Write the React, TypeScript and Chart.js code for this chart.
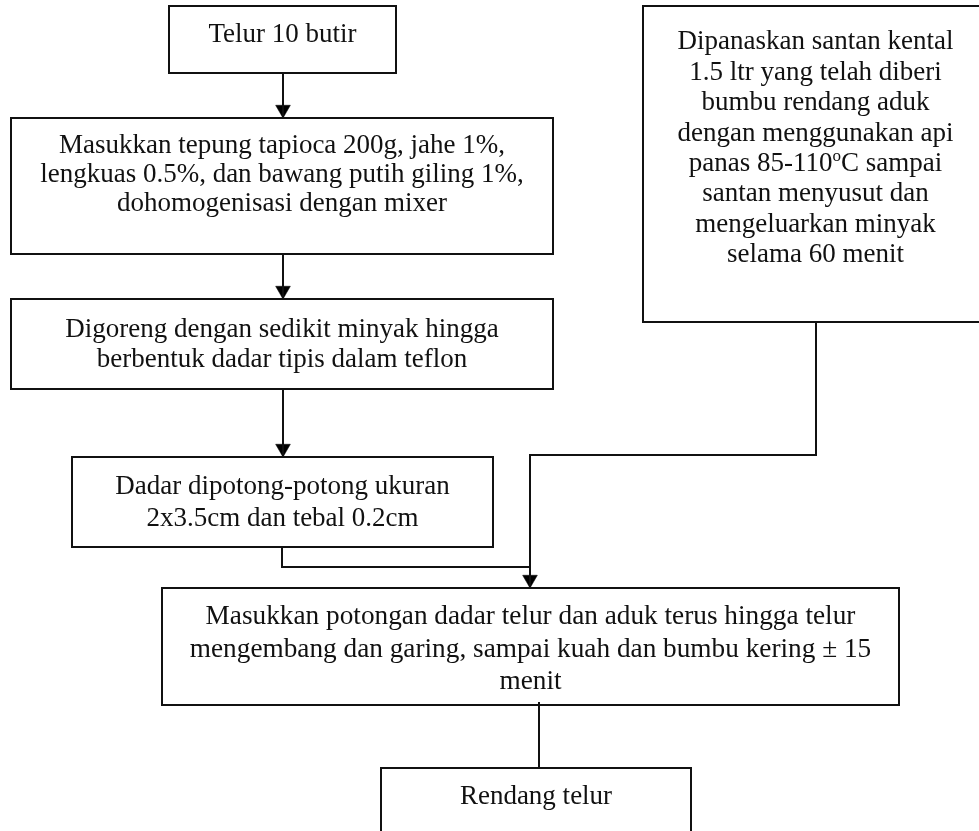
import React, { useEffect, useRef } from "react";
import { Chart, registerables } from "chart.js";

Chart.register(...registerables);

const CANVAS_W = 979;
const CANVAS_H = 831;

// Text of every step (superscript marked with ^)
const stepTelur = ["Telur 10 butir"];
const stepTepung = [
  "Masukkan tepung tapioca 200g, jahe 1%,",
  "lengkuas 0.5%, dan bawang putih giling 1%,",
  "dohomogenisasi dengan mixer",
];
const stepGoreng = ["Digoreng dengan sedikit minyak hingga", "berbentuk dadar tipis dalam teflon"];
const stepPotong = ["Dadar dipotong-potong ukuran", "2x3.5cm dan tebal 0.2cm"];
const stepSantan = [
  "Dipanaskan santan kental",
  "1.5 ltr yang telah diberi",
  "bumbu rendang aduk",
  "dengan menggunakan api",
  "panas 85-110^oC sampai",
  "santan menyusut dan",
  "mengeluarkan minyak",
  "selama 60 menit",
];
const stepCampur = [
  "Masukkan potongan dadar telur dan aduk terus hingga telur",
  "mengembang dan garing, sampai kuah dan bumbu kering ± 15",
  "menit",
];
const stepHasil = ["Rendang telur"];

const stepTexts = [stepTelur, stepTepung, stepGoreng, stepPotong, stepSantan, stepCampur, stepHasil];

// Layout of the boxes (diagram units = pixels of the scales)
const boxLayout = [
  { l: 169, t: 6, r: 396, b: 73, y0: 33, gap: 30, sx: 1 },
  { l: 11, t: 118, r: 553, b: 254, y0: 144, gap: 29, sx: 1 },
  { l: 11, t: 299, r: 553, b: 389, y0: 328, gap: 30, sx: 1 },
  { l: 72, t: 457, r: 493, b: 547, y0: 485, gap: 32, sx: 1 },
  { l: 643, t: 6, r: 988, b: 322, y0: 40, gap: 30.4, sx: 1 },
  { l: 162, t: 588, r: 899, b: 705, y0: 615, gap: 32.5, sx: 1.01 },
  { l: 381, t: 768, r: 691, b: 850, y0: 795, gap: 30, sx: 1 },
];

// Connector paths
const connectorPaths = [
  [[283, 73], [283, 118]],
  [[283, 254], [283, 299]],
  [[283, 389], [283, 457]],
  [[282, 547], [282, 567], [530, 567]],
  [[816, 322], [816, 455], [530, 455], [530, 588]],
  [[539, 702], [539, 768]],
];

// Arrow tips (downward)
const arrowTips = [
  [283, 118],
  [283, 299],
  [283, 457],
  [530, 588],
];

const FONT_PX = 27;
const FONT = `${FONT_PX}px "Liberation Serif", "Times New Roman", serif`;
const SUP_FONT = `${Math.round(FONT_PX * 0.62)}px "Liberation Serif", "Times New Roman", serif`;
const ARROW_R = 8.5;

function drawRichLine(ctx: CanvasRenderingContext2D, line: string, cx: number, baseY: number) {
  const parts: { t: string; sup: boolean }[] = [];
  const segs = line.split("^");
  parts.push({ t: segs[0], sup: false });
  for (let i = 1; i < segs.length; i++) {
    parts.push({ t: segs[i].charAt(0), sup: true });
    parts.push({ t: segs[i].slice(1), sup: false });
  }
  let total = 0;
  const widths = parts.map((p) => {
    ctx.font = p.sup ? SUP_FONT : FONT;
    const w = ctx.measureText(p.t).width;
    total += w;
    return w;
  });
  let x = cx - total / 2;
  parts.forEach((p, i) => {
    ctx.font = p.sup ? SUP_FONT : FONT;
    ctx.fillText(p.t, x, p.sup ? baseY - FONT_PX * 0.38 : baseY);
    x += widths[i];
  });
}

export default function App() {
  const ref = useRef<HTMLCanvasElement>(null);

  useEffect(() => {
    if (!ref.current) return;
    const boxDatasets = boxLayout.map((b) => ({
      type: "line" as const,
      data: [
        { x: b.l, y: b.t },
        { x: b.r, y: b.t },
        { x: b.r, y: b.b },
        { x: b.l, y: b.b },
        { x: b.l, y: b.t },
      ],
      borderColor: "#111",
      borderWidth: 2,
      borderCapStyle: "square" as const,
      borderJoinStyle: "miter" as const,
      pointRadius: 0,
      tension: 0,
      fill: false,
    }));
    const connDatasets = connectorPaths.map((p) => ({
      type: "line" as const,
      data: p.map(([x, y]) => ({ x, y })),
      borderColor: "#111",
      borderWidth: 2,
      borderJoinStyle: "miter" as const,
      pointRadius: 0,
      tension: 0,
      fill: false,
    }));
    const arrowDataset = {
      type: "scatter" as const,
      data: arrowTips.map(([x, y]) => ({ x, y: y - ARROW_R })),
      pointStyle: "triangle" as const,
      pointRadius: ARROW_R,
      rotation: 180,
      backgroundColor: "#000",
      borderColor: "#000",
      borderWidth: 0.5,
    };

    const textPlugin = {
      id: "stepText",
      afterDatasetsDraw(chart: any) {
        const { ctx, scales } = chart;
        const xs = scales.x;
        const ys = scales.y;
        ctx.save();
        ctx.fillStyle = "#111";
        ctx.textAlign = "left";
        ctx.textBaseline = "alphabetic";
        boxLayout.forEach((b, i) => {
          const cx = xs.getPixelForValue((b.l + b.r) / 2);
          stepTexts[i].forEach((line, j) => {
            const cy = ys.getPixelForValue(b.y0 + j * b.gap);
            ctx.save();
            ctx.translate(cx, cy + FONT_PX * 0.35);
            ctx.scale(b.sx, 1);
            drawRichLine(ctx, line, 0, 0);
            ctx.restore();
          });
        });
        ctx.restore();
      },
    };

    const chart = new Chart(ref.current, {
      type: "scatter",
      data: { datasets: [...boxDatasets, ...connDatasets, arrowDataset] as any },
      options: {
        animation: false,
        responsive: false,
        maintainAspectRatio: false,
        layout: { padding: 0, autoPadding: false },
        scales: {
          x: { type: "linear", min: 0, max: CANVAS_W, display: false },
          y: { type: "linear", min: 0, max: CANVAS_H, reverse: true, display: false },
        },
        plugins: { legend: { display: false }, tooltip: { enabled: false } },
        events: [],
      },
      plugins: [textPlugin],
    });
    return () => chart.destroy();
  }, []);

  return (
    <div style={{ position: "fixed", left: 0, top: 0, width: CANVAS_W, height: CANVAS_H, background: "#fff" }}>
      <canvas ref={ref} width={CANVAS_W} height={CANVAS_H} style={{ width: CANVAS_W, height: CANVAS_H }} />
    </div>
  );
}
